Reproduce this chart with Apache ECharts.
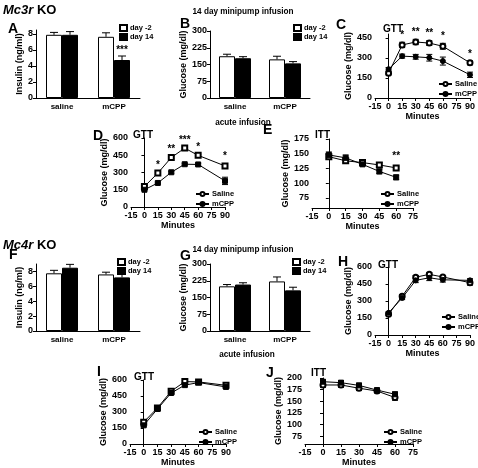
<!DOCTYPE html>
<html><head><meta charset="utf-8">
<script src="https://cdn.jsdelivr.net/npm/echarts@6/dist/echarts.min.js"></script>
<style>html,body{margin:0;padding:0;background:#fff}#c{width:478px;height:468px}</style>
</head><body><div id="c"></div>
<script>
// ---------------- DATA ----------------
const barCategories = ['saline', 'mCPP'];
const lineNames = ['Saline', 'mCPP'];
const barNames = ['day -2', 'day 14'];

// Mc3r KO - 14 day minipump
const aDay2 = [7.9, 7.65], aDay2Err = [0.3, 0.5];
const aDay14 = [7.9, 4.75], aDay14Err = [0.4, 0.5];
const aStars = ['', '***'];
const bDay2 = [187, 173], bDay2Err = [9, 14];
const bDay14 = [178, 155], bDay14Err = [7, 8];
const bStars = ['', ''];
// Mc3r KO - GTT (C), acute GTT (D), acute ITT (E)
const gttTimes = [0, 15, 30, 45, 60, 90];
const ittTimes = [0, 15, 30, 45, 60];
const cSaline = [186, 398, 420, 412, 388, 264], cSalineErr = [12, 20, 20, 18, 22, 15];
const cMcpp = [216, 314, 309, 302, 277, 174], cMcppErr = [12, 15, 18, 25, 30, 20];
const cStars = ['', '*', '**', '**', '*', '*'];
const dSaline = [178, 295, 430, 512, 449, 357], dSalineErr = [8, 10, 12, 10, 10, 20];
const dMcpp = [150, 209, 302, 372, 370, 227], dMcppErr = [8, 8, 8, 8, 10, 32];
const dStars = ['', '*', '**', '***', '*', '*'];
const eSaline = [145, 138, 135, 131, 126], eSalineErr = [4, 3, 3, 4, 2];
const eMcpp = [148, 143, 132, 120, 110], eMcppErr = [5, 5, 3, 4, 4];
const eStars = ['', '', '', '', '**'];
// Mc4r KO
const fDay2 = [7.75, 7.6], fDay2Err = [0.4, 0.3];
const fDay14 = [8.5, 7.2], fDay14Err = [0.45, 0.6];
const fStars = ['', ''];
const gDay2 = [200, 222], gDay2Err = [8, 20];
const gDay14 = [208, 182], gDay14Err = [8, 14];
const gStars = ['', ''];
const hSaline = [183, 342, 510, 535, 512, 462], hSalineErr = [12, 15, 15, 15, 12, 22];
const hMcpp = [196, 327, 482, 505, 487, 482], hMcppErr = [10, 15, 20, 25, 20, 15];
const hStars = ['', '', '', '', '', ''];
const iSaline = [205, 338, 495, 585, 582, 550], iSalineErr = [12, 15, 25, 10, 8, 12];
const iMcpp = [175, 328, 478, 552, 576, 535], iMcppErr = [10, 12, 12, 10, 8, 10];
const iStars = ['', '', '', '', '', ''];
const jSaline = [185, 185, 178, 172, 158], jSalineErr = [5, 5, 5, 4, 6];
const jMcpp = [192, 190, 184, 174, 165], jMcppErr = [4, 4, 5, 4, 5];
const jStars = ['', '', '', '', ''];

const insulinTicks = [0, 2, 4, 6, 8];
const glucoseBarTicks = [0, 75, 150, 225, 300];
const gttTicks = [0, 150, 300, 450, 600];
const gttTicksC = [0, 150, 300, 450];
const ittTicksE = [75, 100, 125, 150, 175];
const ittTicksJ = [75, 100, 125, 150, 175, 200];

// ---------------- STYLE / LAYOUT ----------------
const FONT = '"Liberation Sans", Arial, sans-serif';
const BLACK = '#000';
const grids = [
  {left: 36, top: 30, width: 104, height: 68},   // A
  {left: 210, top: 31, width: 100, height: 67},  // B
  {left: 375, top: 34, width: 96, height: 64},   // C
  {left: 131, top: 138, width: 94, height: 69},  // D
  {left: 312, top: 139, width: 101, height: 69}, // E
  {left: 36, top: 264, width: 104, height: 67},  // F
  {left: 210, top: 264, width: 100, height: 67}, // G
  {left: 375, top: 267, width: 96, height: 68},  // H
  {left: 130, top: 380, width: 96, height: 66},  // I
  {left: 305, top: 378, width: 108, height: 69}  // J
];

const xAxes = [], yAxes = [], series = [], legends = [];
const labelStyle = {color: BLACK, fontSize: 9, fontWeight: 'bold', fontFamily: FONT};
const nameStyle = {color: BLACK, fontSize: 9, fontWeight: 'bold', fontFamily: FONT};
const axisLine = {show: true, lineStyle: {color: BLACK, width: 1}};
const legendText = {color: BLACK, fontSize: 7.5, fontWeight: 'bold', fontFamily: FONT, lineHeight: 7, padding: [0, 0, 0, -2]};

function yAxis(i, min, max, ticks, name, gap) {
  return {
    type: 'value', gridIndex: i, min: min, max: max,
    axisLine: axisLine,
    axisTick: {show: true, length: 3, inside: false, lineStyle: {color: BLACK}, customValues: ticks},
    axisLabel: Object.assign({margin: 3, customValues: ticks}, labelStyle),
    splitLine: {show: false},
    name: name, nameLocation: 'middle', nameGap: gap, nameTextStyle: nameStyle
  };
}

function starText(x, y, txt) {
  return {type: 'text', x: x, y: y, style: {text: txt, font: 'bold 10px ' + FONT, fill: BLACK,
    textAlign: 'center', textVerticalAlign: 'bottom', align: 'center', verticalAlign: 'bottom'}};
}

function barPanel(i, max, ticks, d2, d2e, d14, d14e, stars, yName, gap, legPos) {
  xAxes.push({type: 'category', gridIndex: i, data: barCategories, axisLine: axisLine,
    axisTick: {show: false}, axisLabel: Object.assign({margin: 5}, labelStyle, {fontSize: 8})});
  yAxes.push(yAxis(i, 0, max, ticks, yName, gap));
  series.push({type: 'bar', name: barNames[0], xAxisIndex: i, yAxisIndex: i, data: d2,
    barWidth: 16, barGap: '0%', itemStyle: {color: '#fff', borderColor: BLACK, borderWidth: 1}, z: 2});
  series.push({type: 'bar', name: barNames[1], xAxisIndex: i, yAxisIndex: i, data: d14,
    barWidth: 16, barGap: '0%', itemStyle: {color: BLACK, borderColor: BLACK, borderWidth: 1}, z: 2});
  const errData = [];
  d2.forEach((v, k) => errData.push([k, v, d2e[k], -1, -1]));
  d14.forEach((v, k) => errData.push([k, v, d14e[k], 1, k]));
  series.push({type: 'custom', xAxisIndex: i, yAxisIndex: i, data: errData, z: 3, silent: true,
    encode: {x: 0, y: 1},
    renderItem: function (params, api) {
      const k = api.value(0), v = api.value(1), e = api.value(2), side = api.value(3), si = api.value(4);
      const base = api.coord([k, v]), top = api.coord([k, v + e]);
      const x = base[0] + side * 8;
      const st = {stroke: BLACK, lineWidth: 1};
      const ch = [
        {type: 'line', shape: {x1: x, y1: base[1], x2: x, y2: top[1]}, style: st},
        {type: 'line', shape: {x1: x - 4, y1: top[1], x2: x + 4, y2: top[1]}, style: st}
      ];
      if (si >= 0 && stars[si]) ch.push(starText(x, top[1] - 1, stars[si]));
      return {type: 'group', children: ch};
    }});
  legends.push({data: barNames, orient: 'vertical', left: legPos[0], top: legPos[1], icon: 'rect',
    itemWidth: 7, itemHeight: 6, itemGap: 1, padding: 0, selectedMode: false, textStyle: legendText});
}

function linePanel(i, xMax, times, sal, salE, mc, mcE, stars, symS, symM, yMin, yMax, ticks, yGap, legPos, starOff) {
  xAxes.push({type: 'value', gridIndex: i, min: -15, max: xMax, interval: 15, axisLine: axisLine,
    axisTick: {show: true, length: 3, lineStyle: {color: BLACK}}, splitLine: {show: false},
    axisLabel: Object.assign({margin: 4, showMinLabel: true, showMaxLabel: true}, labelStyle),
    name: 'Minutes', nameLocation: 'middle', nameGap: 14, nameTextStyle: nameStyle});
  yAxes.push(yAxis(i, yMin, yMax, ticks, 'Glucose (mg/dl)', yGap));
  const mk = (name, arr, sym) => ({type: 'line', name: name, xAxisIndex: i, yAxisIndex: i,
    data: times.map((t, k) => [t, arr[k]]), symbol: sym, symbolSize: 5, z: 4,
    lineStyle: {color: BLACK, width: 1}, itemStyle: {color: BLACK, borderColor: BLACK, borderWidth: 1}});
  series.push(mk(lineNames[0], sal, symS));
  series.push(mk(lineNames[1], mc, symM));
  const errData = [];
  times.forEach((t, k) => { errData.push([t, sal[k], salE[k]]); errData.push([t, mc[k], mcE[k]]); });
  series.push({type: 'custom', xAxisIndex: i, yAxisIndex: i, data: errData, z: 3, silent: true,
    encode: {x: 0, y: 1},
    renderItem: function (params, api) {
      const x = api.value(0), m = api.value(1), e = api.value(2);
      const lo = api.coord([x, m - e]), hi = api.coord([x, m + e]);
      const st = {stroke: BLACK, lineWidth: 1};
      return {type: 'group', children: [
        {type: 'line', shape: {x1: lo[0], y1: lo[1], x2: hi[0], y2: hi[1]}, style: st},
        {type: 'line', shape: {x1: lo[0] - 3, y1: lo[1], x2: lo[0] + 3, y2: lo[1]}, style: st},
        {type: 'line', shape: {x1: hi[0] - 3, y1: hi[1], x2: hi[0] + 3, y2: hi[1]}, style: st}
      ]};
    }});
  const starData = times.map((t, k) => [t, Math.max(sal[k] + salE[k], mc[k] + mcE[k]), k]);
  series.push({type: 'custom', xAxisIndex: i, yAxisIndex: i, data: starData, z: 5, silent: true,
    encode: {x: 0, y: 1},
    renderItem: function (params, api) {
      const k = api.value(2);
      if (!stars[k]) return null;
      const p = api.coord([api.value(0), api.value(1)]);
      return starText(p[0], p[1] - starOff, stars[k]);
    }});
  legends.push({data: lineNames, orient: 'vertical', left: legPos[0], top: legPos[1],
    itemWidth: 13, itemHeight: 5, itemGap: 2, padding: 0, selectedMode: false, textStyle: legendText});
}

barPanel(0, 8.5, insulinTicks, aDay2, aDay2Err, aDay14, aDay14Err, aStars, 'Insulin (ng/ml)', 11, [119, 24]);
barPanel(1, 300, glucoseBarTicks, bDay2, bDay2Err, bDay14, bDay14Err, bStars, 'Glucose (mg/dl)', 16, [293, 24]);
linePanel(2, 90, gttTimes, cSaline, cSalineErr, cMcpp, cMcppErr, cStars, 'emptyCircle', 'circle', 0, 480, gttTicksC, 20, [438, 80], 2);
linePanel(3, 90, gttTimes, dSaline, dSalineErr, dMcpp, dMcppErr, dStars, 'emptyRect', 'rect', 0, 600, gttTicks, 18, [195, 190], 2);
linePanel(4, 75, ittTimes, eSaline, eSalineErr, eMcpp, eMcppErr, eStars, 'emptyRect', 'rect', 58, 175, ittTicksE, 17, [380, 190], 5);
barPanel(5, 9, insulinTicks, fDay2, fDay2Err, fDay14, fDay14Err, fStars, 'Insulin (ng/ml)', 7, [117, 258]);
barPanel(6, 300, glucoseBarTicks, gDay2, gDay2Err, gDay14, gDay14Err, gStars, 'Glucose (mg/dl)', 16, [292, 258]);
linePanel(7, 90, gttTimes, hSaline, hSalineErr, hMcpp, hMcppErr, hStars, 'emptyCircle', 'circle', 0, 600, gttTicks, 20, [441, 313], 2);
linePanel(8, 90, gttTimes, iSaline, iSalineErr, iMcpp, iMcppErr, iStars, 'emptyRect', 'rect', 0, 600, gttTicks, 18, [198, 428], 2);
linePanel(9, 75, ittTimes, jSaline, jSalineErr, jMcpp, jMcppErr, jStars, 'emptyCircle', 'rect', 58, 200, ittTicksJ, 18, [383, 428], 2);

function txt(x, y, text, font, align) {
  return {type: 'text', x: x, y: y, silent: true,
    style: {text: text, font: font, fill: BLACK, textAlign: align || 'left', align: align || 'left',
      textVerticalAlign: 'middle', verticalAlign: 'middle'}};
}
const letterFont = 'bold 14px ' + FONT;
const headFont = 'bold 8.2px ' + FONT;
const gttFont = 'bold 10px ' + FONT;
const graphics = [
  {type: 'text', x: 3, y: 10, silent: true, style: {text: '{i|Mc3r} KO', font: 'bold 13px ' + FONT, fill: BLACK, verticalAlign: 'middle', textVerticalAlign: 'middle',
    rich: {i: {font: 'italic bold 13px ' + FONT, fill: BLACK}}}},
  {type: 'text', x: 3, y: 245, silent: true, style: {text: '{i|Mc4r} KO', font: 'bold 13px ' + FONT, fill: BLACK, verticalAlign: 'middle', textVerticalAlign: 'middle',
    rich: {i: {font: 'italic bold 13px ' + FONT, fill: BLACK}}}},
  txt(243, 12, '14 day minipump infusion', headFont, 'center'),
  txt(243, 250, '14 day minipump infusion', headFont, 'center'),
  txt(243, 123, 'acute infusion', headFont, 'center'),
  txt(247, 355, 'acute infusion', headFont, 'center'),
  txt(8, 29, 'A', letterFont), txt(180, 24, 'B', letterFont), txt(336, 25, 'C', letterFont),
  txt(93, 136, 'D', letterFont), txt(263, 130, 'E', letterFont),
  txt(9, 255, 'F', letterFont), txt(180, 256, 'G', letterFont), txt(338, 262, 'H', letterFont),
  txt(97, 372, 'I', letterFont), txt(266, 373, 'J', letterFont),
  txt(383, 29, 'GTT', gttFont), txt(133, 135, 'GTT', gttFont), txt(315, 135, 'ITT', gttFont),
  txt(378, 265, 'GTT', gttFont), txt(134, 377, 'GTT', gttFont), txt(311, 373, 'ITT', gttFont)
];

const chart = echarts.init(document.getElementById('c'), null, {renderer: 'canvas'});
chart.setOption({
  animation: false,
  backgroundColor: '#fff',
  grid: grids,
  xAxis: xAxes,
  yAxis: yAxes,
  legend: legends,
  series: series,
  graphic: graphics
});
</script></body></html>
